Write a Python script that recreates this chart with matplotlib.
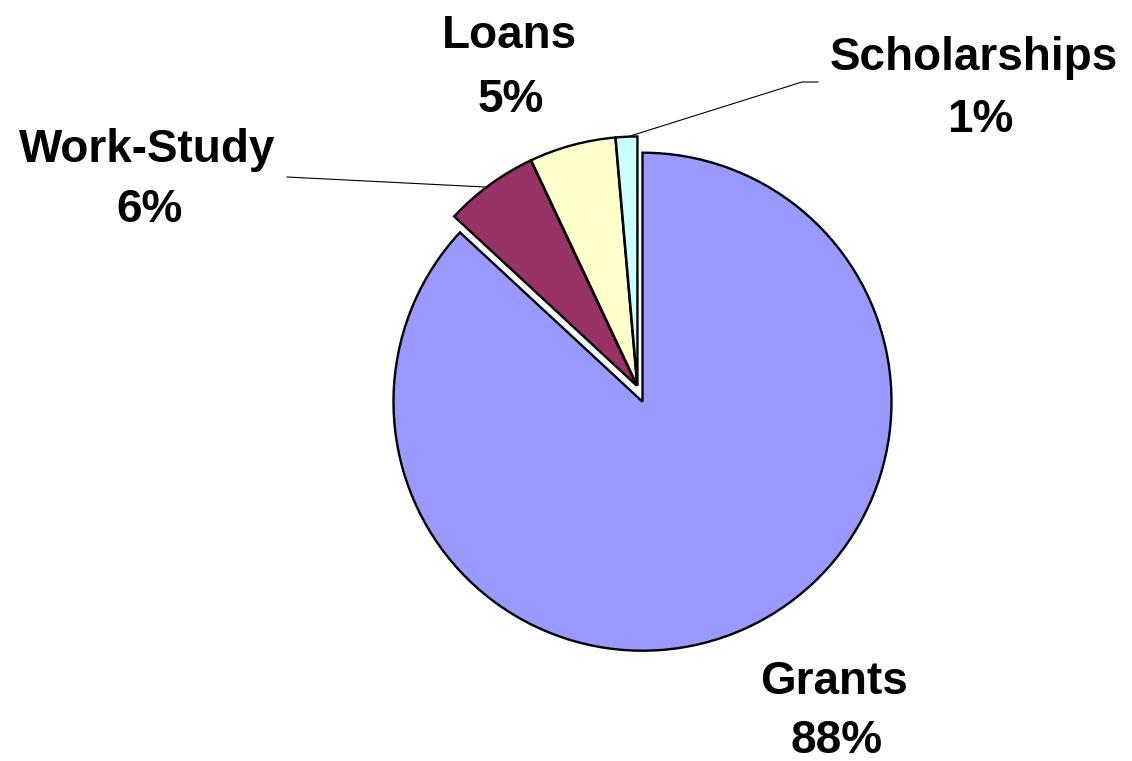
import numpy as np
import matplotlib
matplotlib.use("Agg")
import matplotlib.pyplot as plt

categories = ["Grants", "Work-Study", "Loans", "Scholarships"]
values = [86.9, 6.1, 5.6, 1.4]
pct_labels = ["88%", "6%", "5%", "1%"]
colors = ["#9999FF", "#993366", "#FFFFCC", "#CCFFFF"]

W, H = 1132, 761
fig = plt.figure(figsize=(W / 100, H / 100), dpi=100)
ax = fig.add_axes([0, 0, 1, 1])

cx, cy, r = 642.5, H - 401.7, 249
wedges, _ = ax.pie(values, colors=colors, startangle=90, counterclock=False,
                   center=(cx, cy), radius=r,
                   wedgeprops=dict(edgecolor="black", linewidth=1.7))

# the three small slices are pulled out together (up-left)
gdx, gdy = -5.0, 15.0
for w in wedges[1:]:
    mid = np.deg2rad((w.theta1 + w.theta2) / 2)
    w.set_center((cx + gdx + 1.2 * np.cos(mid), cy + gdy + 1.2 * np.sin(mid)))

ax.set_xlim(0, W)
ax.set_ylim(0, H)
ax.set_aspect("auto")
ax.axis("off")

font = dict(family=["Liberation Sans", "Arial", "DejaVu Sans"], fontsize=33,
            fontweight="bold", ha="center", va="baseline", color="black")

# label positions (pixel coords from top)
label_pos = {
    "Grants": ((834, 694), (837, 753)),
    "Work-Study": ((147, 162), (150, 222)),
    "Loans": ((509, 48), (511, 112)),
    "Scholarships": ((974, 70), (980, 132)),
}
for name, pct in zip(categories, pct_labels):
    (x1, y1), (x2, y2) = label_pos[name]
    ax.text(x1, H - y1, name, **font)
    ax.text(x2, H - y2, pct, **font)

# leader lines
ax.plot([287, 485], [H - 177, H - 187], color="black", lw=0.8)
ax.plot([818, 802, 627], [H - 82, H - 82, H - 137], color="black", lw=0.8)

fig.savefig("out.png", dpi=100)
